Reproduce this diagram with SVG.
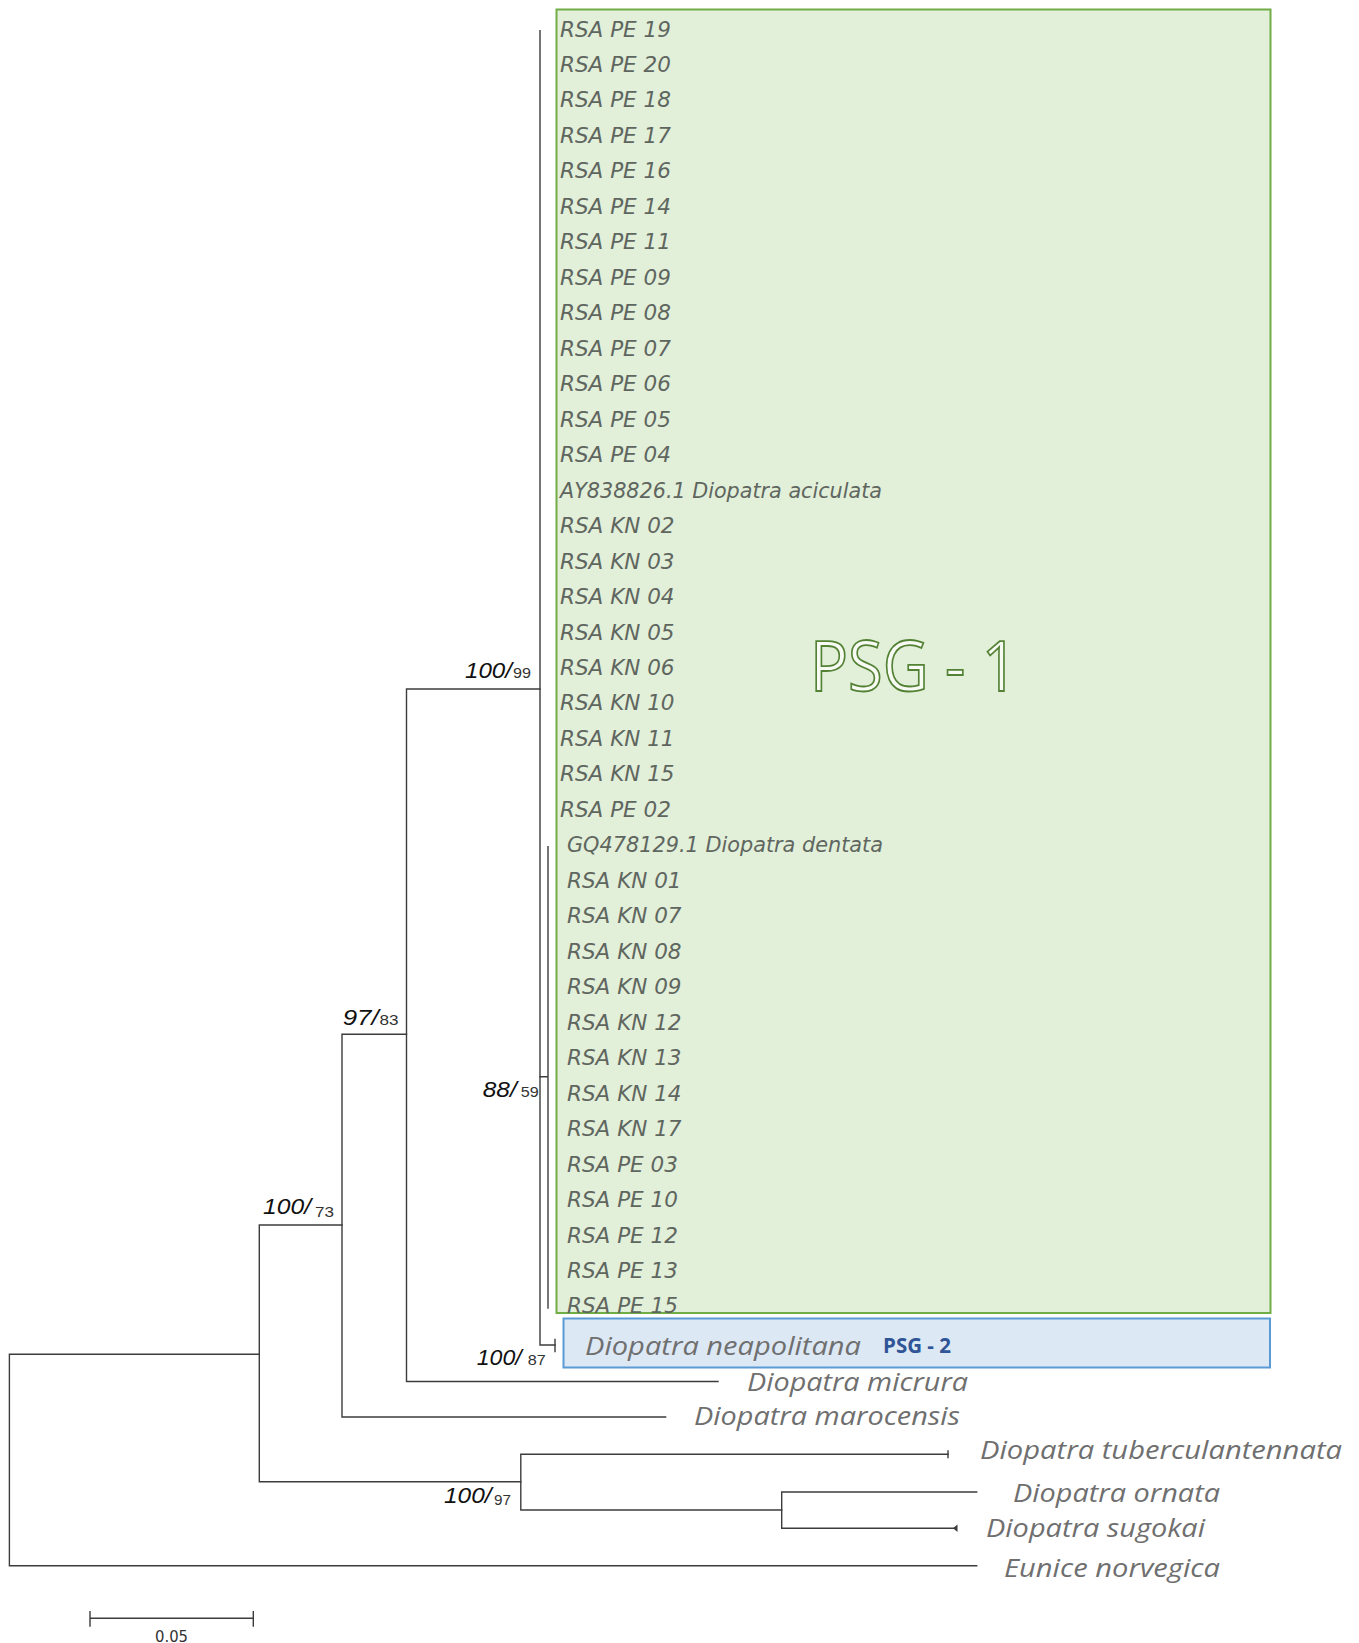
<svg xmlns="http://www.w3.org/2000/svg" width="1359" height="1643" viewBox="0 0 1359 1643">
<style>
.br{fill:none;stroke:#3c3c3c;stroke-width:1.4;stroke-linecap:square}
.tip{font-family:"DejaVu Sans",sans-serif;font-style:italic;font-weight:200;font-size:21.5px;fill:#5f665f}
.sp{font-family:"Open Sans","Liberation Sans",sans-serif;font-style:italic;font-size:26px;fill:#6f6f6f}
.bi{font-family:"Liberation Sans",sans-serif;font-style:italic;font-size:21.5px;fill:#111}
.bn{font-family:"Liberation Sans",sans-serif;font-size:14.5px;fill:#333}
</style>
<rect width="1359" height="1643" fill="#fff"/>
<g id="psg1">
<rect x="556.5" y="9.5" width="714" height="1303.5" fill="#e2efd9" stroke="#70ad47" stroke-width="2"/>
<text x="810" y="691" font-family="Open Sans, Liberation Sans, sans-serif" font-size="70" textLength="208" lengthAdjust="spacingAndGlyphs" fill="#f7fbf4" stroke="#548235" stroke-width="1.8">PSG - 1</text>
</g>
<g id="psg2">
<rect x="563.5" y="1318.5" width="706.5" height="49" fill="#dde8f5" stroke="#5b9bd5" stroke-width="2"/>
<text x="883" y="1352.5" font-family="Open Sans, Liberation Sans, sans-serif" font-weight="bold" font-size="22" textLength="68" lengthAdjust="spacingAndGlyphs" fill="#2f5597">PSG - 2</text>
</g>
<g id="tips">
<text class="tip" x="560" y="36.5">RSA PE 19</text>
<text class="tip" x="560" y="72">RSA PE 20</text>
<text class="tip" x="560" y="107.4">RSA PE 18</text>
<text class="tip" x="560" y="142.9">RSA PE 17</text>
<text class="tip" x="560" y="178.4">RSA PE 16</text>
<text class="tip" x="560" y="213.9">RSA PE 14</text>
<text class="tip" x="560" y="249.3">RSA PE 11</text>
<text class="tip" x="560" y="284.8">RSA PE 09</text>
<text class="tip" x="560" y="320.3">RSA PE 08</text>
<text class="tip" x="560" y="355.7">RSA PE 07</text>
<text class="tip" x="560" y="391.2">RSA PE 06</text>
<text class="tip" x="560" y="426.7">RSA PE 05</text>
<text class="tip" x="560" y="462.1">RSA PE 04</text>
<text class="tip" x="560" y="497.6" textLength="322" lengthAdjust="spacingAndGlyphs">AY838826.1 Diopatra aciculata</text>
<text class="tip" x="560" y="533.1">RSA KN 02</text>
<text class="tip" x="560" y="568.6">RSA KN 03</text>
<text class="tip" x="560" y="604">RSA KN 04</text>
<text class="tip" x="560" y="639.5">RSA KN 05</text>
<text class="tip" x="560" y="675">RSA KN 06</text>
<text class="tip" x="560" y="710.4">RSA KN 10</text>
<text class="tip" x="560" y="745.9">RSA KN 11</text>
<text class="tip" x="560" y="781.4">RSA KN 15</text>
<text class="tip" x="560" y="816.8">RSA PE 02</text>
<text class="tip" x="567" y="852.3" textLength="316" lengthAdjust="spacingAndGlyphs">GQ478129.1 Diopatra dentata</text>
<text class="tip" x="567" y="887.8">RSA KN 01</text>
<text class="tip" x="567" y="923.3">RSA KN 07</text>
<text class="tip" x="567" y="958.7">RSA KN 08</text>
<text class="tip" x="567" y="994.2">RSA KN 09</text>
<text class="tip" x="567" y="1029.7">RSA KN 12</text>
<text class="tip" x="567" y="1065.1">RSA KN 13</text>
<text class="tip" x="567" y="1100.6">RSA KN 14</text>
<text class="tip" x="567" y="1136.1">RSA KN 17</text>
<text class="tip" x="567" y="1171.5">RSA PE 03</text>
<text class="tip" x="567" y="1207">RSA PE 10</text>
<text class="tip" x="567" y="1242.5">RSA PE 12</text>
<text class="tip" x="567" y="1278">RSA PE 13</text>
<text class="tip" x="567" y="1313">RSA PE 15</text>
</g>
<g id="species">
<text class="sp" x="585" y="1355" textLength="276" lengthAdjust="spacingAndGlyphs">Diopatra neapolitana</text>
<text class="sp" x="747" y="1390.5" textLength="221" lengthAdjust="spacingAndGlyphs">Diopatra micrura</text>
<text class="sp" x="694" y="1425" textLength="266" lengthAdjust="spacingAndGlyphs">Diopatra marocensis</text>
<text class="sp" x="980" y="1459" textLength="362" lengthAdjust="spacingAndGlyphs">Diopatra tuberculantennata</text>
<text class="sp" x="1013" y="1501.5" textLength="207" lengthAdjust="spacingAndGlyphs">Diopatra ornata</text>
<text class="sp" x="986" y="1537" textLength="219" lengthAdjust="spacingAndGlyphs">Diopatra sugokai</text>
<text class="sp" x="1004" y="1577" textLength="216" lengthAdjust="spacingAndGlyphs">Eunice norvegica</text>
</g>
<g id="connectors">
<path class="br" d="M259.3 1354.3 H9.4 V1565.7 H976.7"/>
<path class="br" d="M342 1225 H259.3 V1481.7 H520.8"/>
<path class="br" d="M948 1454.3 H520.8 V1510 H781.7"/>
<path class="br" d="M976.7 1492 H781.7 V1528.3 H956"/>
<path class="br" d="M406.5 1034.3 H342 V1417 H665.6"/>
<path class="br" d="M540 689 H406.5 V1381.5 H718"/>
<path class="br" d="M540 30.7 V1345 H555"/>
<path class="br" d="M555 1339.5 V1351.5"/>
<path class="br" d="M540 1076.7 H548 M548 846.7 V1308"/>
<path class="br" d="M948 1451 V1457.6"/>
<path d="M953 1528.3 L957.5 1524.5 V1532 Z" fill="#3c3c3c"/>
</g>
<g id="support">
<text class="bi" x="465" y="678" textLength="47" lengthAdjust="spacingAndGlyphs">100/</text>
<text class="bn" x="513" y="678" textLength="18" lengthAdjust="spacingAndGlyphs">99</text>
<text class="bi" x="342.7" y="1025" textLength="36" lengthAdjust="spacingAndGlyphs">97/</text>
<text class="bn" x="379.5" y="1025" textLength="19" lengthAdjust="spacingAndGlyphs">83</text>
<text class="bi" x="482.7" y="1096.5" textLength="34" lengthAdjust="spacingAndGlyphs">88/</text>
<text class="bn" x="520.7" y="1097" textLength="18" lengthAdjust="spacingAndGlyphs">59</text>
<text class="bi" x="476.7" y="1365" textLength="45" lengthAdjust="spacingAndGlyphs">100/</text>
<text class="bn" x="527.7" y="1365" textLength="18" lengthAdjust="spacingAndGlyphs">87</text>
<text class="bi" x="263" y="1214" textLength="48" lengthAdjust="spacingAndGlyphs">100/</text>
<text class="bn" x="315" y="1216.7" textLength="19" lengthAdjust="spacingAndGlyphs">73</text>
<text class="bi" x="444" y="1502.7" textLength="47.5" lengthAdjust="spacingAndGlyphs">100/</text>
<text class="bn" x="494" y="1505" textLength="17" lengthAdjust="spacingAndGlyphs">97</text>
</g>
<g id="scalebar">
<path class="br" d="M90 1618.3 H253.3 M90 1611.7 V1626 M253.3 1611.7 V1626"/>
<text x="155" y="1641.5" font-family="DejaVu Sans, sans-serif" font-size="16" textLength="33" lengthAdjust="spacingAndGlyphs" fill="#333">0.05</text>
</g>
</svg>
